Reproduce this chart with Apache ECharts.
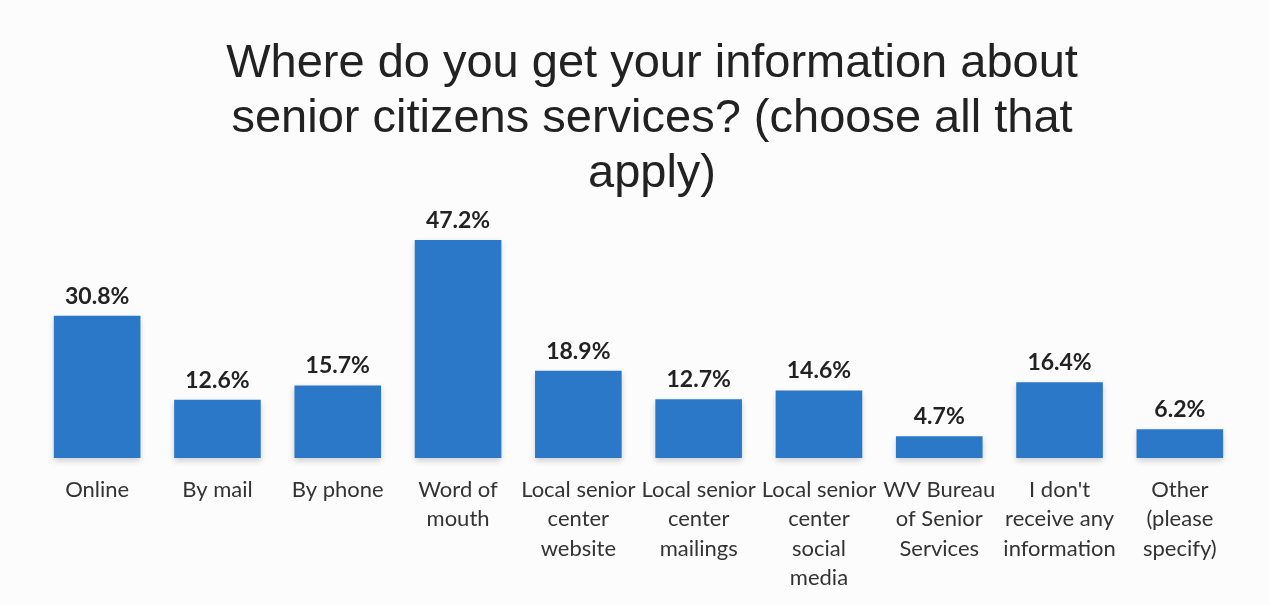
<!DOCTYPE html>
<html><head><meta charset="utf-8">
<script src="https://cdn.jsdelivr.net/npm/echarts@6/dist/echarts.min.js"></script>
<style>html,body{margin:0;padding:0;background:#fcfcfc}#c{width:1270px;height:605px}</style>
</head><body><div id="c"></div>
<script>
const titleText = "Where do you get your information about\nsenior citizens services? (choose all that\napply)";
const categories = ["Online","By mail","By phone","Word of\nmouth","Local senior\ncenter\nwebsite","Local senior\ncenter\nmailings","Local senior\ncenter\nsocial\nmedia","WV Bureau\nof Senior\nServices","I don't\nreceive any\ninformation","Other\n(please\nspecify)"];
const values = [30.8,12.6,15.7,47.2,18.9,12.7,14.6,4.7,16.4,6.2];

const chart = echarts.init(document.getElementById('c'));
chart.setOption({
  backgroundColor:'#fcfcfc',
  animation:false,
  title:{text:titleText,left:647,top:32,textAlign:'center',
    textStyle:{fontFamily:'Liberation Sans',fontSize:47,fontWeight:'normal',color:'#222',lineHeight:55}},
  grid:{left:37,right:30,top:227,bottom:147},
  xAxis:{type:'category',data:categories,
    axisLine:{show:false},axisTick:{show:false},
    axisLabel:{interval:0,margin:17,fontFamily:'Lato',fontSize:22,color:'#333',lineHeight:29.5,verticalAlign:'top'}},
  yAxis:{type:'value',min:0,max:50,show:false,splitLine:{show:false}},
  series:[{type:'bar',data:values,barCategoryGap:'28%',
    itemStyle:{color:'#2b77c8',shadowColor:'rgba(0,0,0,0.18)',shadowBlur:6,shadowOffsetY:3},
    label:{show:true,position:'top',distance:8,formatter:p=>p.value.toFixed(1)+'%',
      fontFamily:'Lato',fontWeight:'bold',fontSize:23,color:'#222'}}]
});
</script></body></html>
